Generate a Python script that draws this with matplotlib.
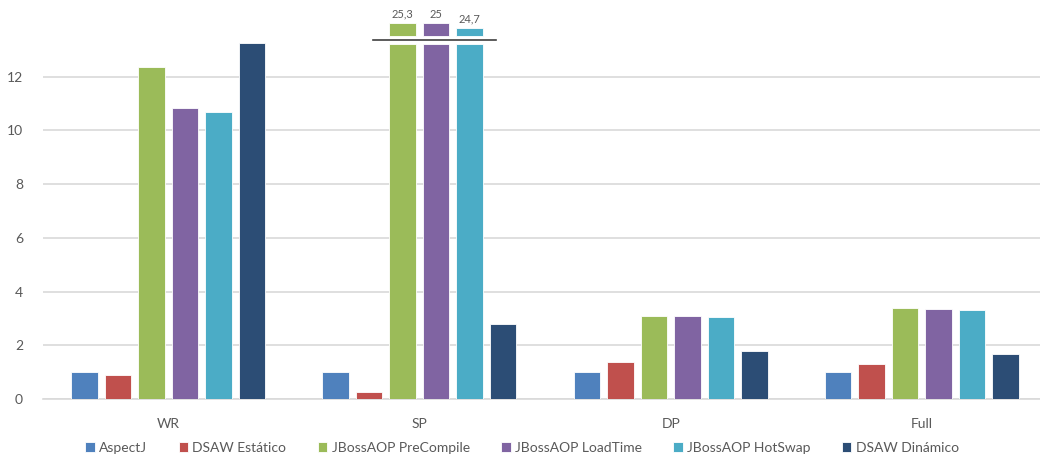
import matplotlib
matplotlib.use('Agg')
import numpy as np
from matplotlib import pyplot as plt

categories = ['WR', 'SP', 'DP', 'Full']
series = ['AspectJ', 'DSAW Estático', 'JBossAOP PreCompile',
          'JBossAOP LoadTime', 'JBossAOP HotSwap', 'DSAW Dinámico']
aspectj = [1.0, 1.0, 1.0, 1.0]
dsaw_estatico = [0.89, 0.26, 1.38, 1.30]
precompile = [12.37, 25.3, 3.09, 3.39]
loadtime = [10.83, 25.0, 3.10, 3.35]
hotswap = [10.70, 24.7, 3.06, 3.33]
dsaw_dinamico = [13.27, 2.80, 1.78, 1.68]
values = [aspectj, dsaw_estatico, precompile, loadtime, hotswap, dsaw_dinamico]
yticks = [0, 2, 4, 6, 8, 10, 12]

colors = ['#4F81BD', '#C0504D', '#9BBB59', '#8064A2', '#4BACC6', '#2C4D75']
text_col = '#595959'
grid_col = '#D9D9D9'

plt.rcParams['font.family'] = ['Lato', 'DejaVu Sans']

# broken-bar layout (axis units)
cut_low = 13.22
cut_high = 13.5
break_line = 13.38
stub_tops = {25.3: 14.0, 25.0: 14.0, 24.7: 13.82}

fig = plt.figure(figsize=(10.4, 4.55), dpi=100)
ax = fig.add_axes([42.5 / 1040, 56 / 455, 1 - 42.5 / 1040, (399 - 23) / 455])
ax.set_xlim(-0.5, 3.5 - 7.5 / 251)
ax.set_ylim(0, 14)

x = np.arange(len(categories))
step = 33.5 / 251
width = 26.5 / 251

for i, (name, vals, c) in enumerate(zip(series, values, colors)):
    pos = x + (i - 2.5) * step
    shown = [cut_low if v > 14 else v for v in vals]
    ax.bar(pos, shown, width, color=c, edgecolor='white', linewidth=0.6,
           label=name, zorder=3)
    for p, v in zip(pos, vals):
        if v > 14:
            top = stub_tops.get(v, 14.0)
            ax.bar(p, top - cut_high, width, bottom=cut_high, color=c,
                   edgecolor='white', linewidth=0.6, zorder=3, clip_on=False)
            ax.text(p, top + 0.12, ('%g' % v).replace('.', ','), ha='center',
                    va='bottom', fontsize=8, color=text_col, clip_on=False)

# break marker across SP's tall bars
sp = x[1]
ax.plot([sp - 0.183, sp + 0.303], [break_line, break_line], color='#404040',
        lw=1.2, zorder=4, clip_on=False)

ax.set_yticks(yticks)
ax.set_xticks(x)
ax.set_xticklabels(categories)
ax.tick_params(axis='both', length=0, colors=text_col, labelsize=10)
ax.tick_params(axis='x', pad=14)
ax.tick_params(axis='y', pad=14)
ax.yaxis.grid(True, color=grid_col, linewidth=1.2, zorder=0)
ax.set_axisbelow(True)
for s in ['top', 'right', 'left']:
    ax.spines[s].set_visible(False)
ax.spines['bottom'].set_color(grid_col)
ax.spines['bottom'].set_linewidth(1.2)

handles, labels = ax.get_legend_handles_labels()
fig.legend(handles, labels, loc='center', bbox_to_anchor=(0.502, 0.016), ncol=6,
           frameon=False, fontsize=10, handlelength=0.7, handleheight=0.7,
           handletextpad=0.3, columnspacing=2.25, labelcolor=text_col,
           borderpad=0)

fig.savefig('out.png', dpi=100)
